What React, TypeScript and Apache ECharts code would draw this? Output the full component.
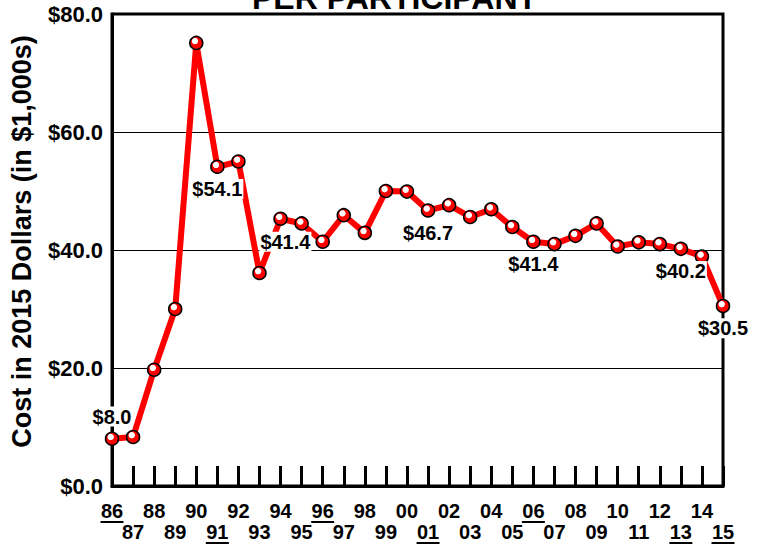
import React, { useEffect, useRef } from "react";
import * as echarts from "echarts";

const years = ["86","87","88","89","90","91","92","93","94","95","96","97","98","99","00","01","02","03","04","05","06","07","08","09","10","11","12","13","14","15"];
const costs = [8.0,8.3,19.7,30.0,75.1,54.1,55.0,36.1,45.3,44.5,41.4,45.9,42.9,50.0,49.9,46.7,47.6,45.6,46.9,43.9,41.4,41.0,42.4,44.5,40.6,41.3,41.0,40.2,38.9,30.5];
const labelled: Record<string, string> = { "86": "top", "91": "bottom", "96": "left", "01": "bottom", "06": "bottom", "13": "bottom", "15": "bottom" };
const underlined = ["86", "91", "96", "01", "06", "13", "15"];
const yTicks = [0, 20, 40, 60, 80];
const FONT = "'Liberation Sans', Arial, Helvetica, sans-serif";

export default function App() {
  const ref = useRef<HTMLDivElement>(null);
  useEffect(() => {
    if (!ref.current) return;
    const chart = echarts.init(ref.current, undefined, { renderer: "svg" });
    const marker = new echarts.graphic.RadialGradient(0.4, 0.36, 0.55, [
      { offset: 0, color: "#ffffff" },
      { offset: 0.38, color: "#ffffff" },
      { offset: 0.5, color: "#ff0000" },
      { offset: 1, color: "#ff0000" },
    ]);
    const data = costs.map((v, i) => {
      const pos = labelled[years[i]];
      const item: any = { value: v };
      if (pos) {
        item.label = {
          show: true,
          position: pos,
          distance: pos === "left" ? 4 : 5,
          formatter: (p: any) => "$" + Number(p.value).toFixed(1),
          fontFamily: FONT,
          fontWeight: "bold",
          fontSize: 20,
          color: "#000",
          backgroundColor: "#fff",
          padding: [0, 1, 0, 1],
        };
      }
      return item;
    });
    chart.setOption({
      animation: false,
      backgroundColor: "#fff",
      title: {
        text: "PER PARTICIPANT",
        left: 252,
        top: -18,
        padding: 0,
        textStyle: { fontFamily: FONT, fontWeight: "bold", fontSize: 32, color: "#000" },
      },
      grid: {
        left: 110, right: 43, top: 14, bottom: 58,
        show: true, borderColor: "#000", borderWidth: 3, backgroundColor: "transparent",
      },
      xAxis: {
        type: "category",
        data: years,
        boundaryGap: false,
        axisLine: { lineStyle: { color: "#000", width: 3 } },
        axisTick: { show: true, inside: true, length: 20, interval: 0, lineStyle: { color: "#000", width: 3 } },
        axisLabel: {
          interval: 0,
          margin: 14,
          fontFamily: FONT,
          fontWeight: "bold",
          fontSize: 20,
          lineHeight: 21,
          color: "#000",
          formatter: (v: string, i: number) => (i % 2 === 0 ? v : "\n" + v),
        },
        splitLine: { show: false },
      },
      yAxis: {
        type: "value",
        min: yTicks[0],
        max: yTicks[yTicks.length - 1],
        interval: 20,
        name: "Cost in 2015 Dollars (in $1,000s)",
        nameLocation: "middle",
        nameGap: 77,
        nameTextStyle: { fontFamily: FONT, fontWeight: "bold", fontSize: 27, color: "#000", padding: [0, 0, 0, 17] },
        axisLine: { show: true, lineStyle: { color: "#000", width: 3 } },
        axisTick: { show: false },
        axisLabel: {
          margin: 9,
          fontFamily: FONT,
          fontWeight: "bold",
          fontSize: 22,
          color: "#000",
          formatter: (v: number) => "$" + v.toFixed(1),
        },
        splitLine: { show: true, lineStyle: { color: "#000", width: 1 } },
      },
      series: [
        {
          type: "line",
          data,
          symbol: "circle",
          symbolSize: 13,
          showAllSymbol: true,
          lineStyle: { color: "#ff0000", width: 6 },
          itemStyle: { color: marker, borderColor: "#000", borderWidth: 1.5 },
          z: 3,
        },
      ],
    });
    const axisY = chart.convertToPixel({ yAxisIndex: 0 }, 0) as number;
    const graphics = underlined.map((y) => {
      const i = years.indexOf(y);
      const x = chart.convertToPixel({ xAxisIndex: 0 }, i) as number;
      const ly = axisY + (i % 2 === 0 ? 36 : 57);
      return {
        type: "line",
        shape: { x1: x - 11.5, y1: ly, x2: x + 11.5, y2: ly },
        style: { stroke: "#000", lineWidth: 2 },
      };
    });
    chart.setOption({ graphic: graphics });
    return () => chart.dispose();
  }, []);
  return <div ref={ref} style={{ width: 766, height: 544, position: "absolute", left: 0, top: 0 }} />;
}
